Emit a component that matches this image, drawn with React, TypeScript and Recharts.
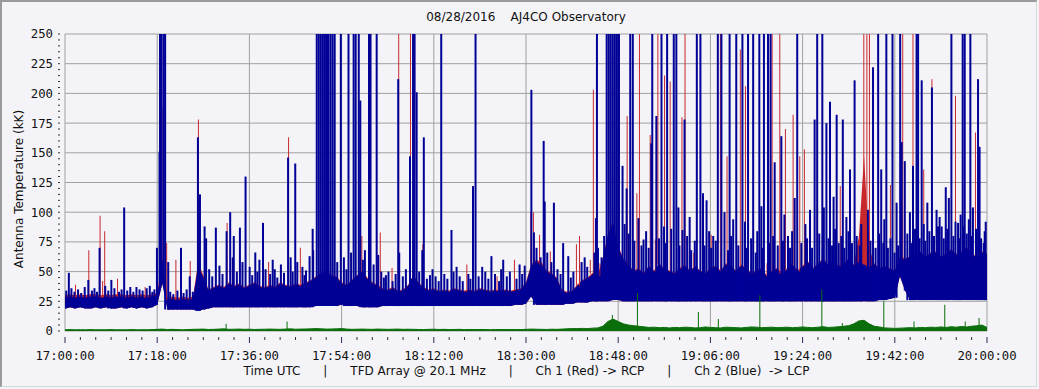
import { ComposedChart, Area, Bar, XAxis, YAxis, CartesianGrid } from 'recharts';

// minutes after 17:00 UTC, one value per minute (0..180)
const blueLow = [
  19, 20, 19, 20, 19, 19, 20, 19, 20, 19,
  19, 20, 19, 20, 19, 20, 19, 20, 22, 40,
  18, 18, 18, 18, 18, 18, 17, 18, 19, 20,
  20, 20, 20, 20, 20, 20, 20, 20, 20, 20,
  20, 20, 20, 20, 20, 20, 20, 20, 20, 21,
  21, 21, 21, 21, 22, 21, 21, 21, 20, 20,
  20, 20, 21, 21, 21, 21, 21, 21, 21, 21,
  21, 21, 21, 21, 21, 21, 21, 21, 21, 21,
  21, 21, 21, 21, 21, 21, 21, 21, 22, 22,
  23, 29, 22, 22, 22, 22, 22, 22, 23, 23,
  24, 24, 24, 25, 25, 25, 25, 26, 26, 25,
  25, 25, 25, 25, 25, 25, 25, 25, 25, 25,
  25, 25, 25, 25, 25, 25, 25, 25, 25, 25,
  25, 25, 25, 25, 25, 25, 25, 25, 25, 25,
  25, 25, 25, 25, 25, 25, 25, 25, 25, 25,
  25, 25, 25, 25, 25, 25, 25, 25, 25, 26,
  26, 27, 28, 46, 34, 26, 26, 26, 26, 26,
  26, 26, 26, 26, 26, 26, 26, 26, 26, 26,
  26,
];

const blueHigh = [
  28, 29, 28, 29, 28, 29, 29, 28, 29, 28,
  29, 29, 28, 29, 28, 29, 28, 29, 30, 60,
  26, 27, 26, 27, 26, 27, 55, 45, 34, 36,
  38, 36, 40, 37, 39, 36, 38, 40, 37, 36,
  38, 36, 40, 38, 37, 39, 38, 40, 42, 45,
  48, 50, 46, 45, 40, 38, 42, 46, 50, 44,
  40, 38, 35, 34, 36, 33, 34, 38, 46, 40,
  36, 34, 35, 33, 34, 33, 35, 34, 33, 34,
  33, 35, 34, 33, 34, 33, 34, 33, 34, 35,
  40, 55, 58, 56, 50, 48, 44, 34, 32, 33,
  38, 42, 44, 48, 46, 60, 80, 90, 70, 60,
  55, 50, 52, 48, 54, 50, 56, 52, 50, 48,
  52, 55, 50, 54, 50, 48, 52, 54, 50, 56,
  54, 50, 55, 52, 48, 50, 52, 46, 50, 52,
  48, 52, 56, 50, 54, 58, 52, 56, 60, 55,
  58, 54, 56, 60, 55, 58, 56, 54, 56, 52,
  54, 52, 50, 62, 60, 62, 64, 66, 62, 65,
  66, 62, 64, 68, 64, 66, 70, 64, 62, 66,
  64,
];

const redHigh = [
  30, 31, 30, 31, 30, 31, 31, 30, 31, 30,
  31, 31, 30, 31, 30, 31, 30, 31, 32, 62,
  28, 29, 28, 29, 28, 29, 58, 47, 35, 37,
  39, 37, 41, 38, 40, 37, 39, 41, 38, 37,
  39, 37, 41, 39, 38, 40, 39, 41, 43, 46,
  49, 51, 47, 46, 41, 39, 43, 47, 51, 45,
  41, 39, 36, 35, 37, 34, 35, 39, 47, 41,
  37, 35, 36, 34, 35, 34, 36, 35, 34, 35,
  34, 36, 35, 34, 35, 34, 35, 34, 35, 36,
  41, 56, 60, 58, 51, 49, 45, 35, 33, 34,
  39, 43, 45, 49, 47, 62, 82, 92, 72, 61,
  56, 51, 53, 49, 55, 51, 57, 53, 51, 49,
  53, 56, 51, 55, 51, 49, 53, 55, 51, 57,
  55, 51, 56, 53, 49, 51, 53, 47, 51, 53,
  49, 53, 57, 51, 55, 59, 53, 57, 61, 56,
  59, 55, 57, 61, 56, 80, 147, 70, 57, 53,
  55, 53, 51, 63, 61, 63, 65, 67, 63, 66,
  67, 63, 65, 69, 65, 67, 71, 65, 63, 67,
  65,
];

const green = [
  1, 1.2, 1, 1.1, 1, 1.2, 1, 1.1, 1, 1.2,
  1, 1.1, 1, 1.2, 1, 1.1, 1, 1.2, 1.4, 1.6,
  1.2, 1.4, 1.2, 1, 1.2, 1.4, 1.5, 1.6, 1.3, 1.4,
  1.6, 1.8, 1.4, 1.5, 1.6, 1.4, 1.5, 1.3, 1.4, 1.5,
  1.6, 1.5, 1.4, 1.6, 1.8, 1.5, 1.6, 1.7, 1.8, 2,
  1.8, 1.6, 1.7, 1.8, 2, 1.6, 1.4, 1.5, 1.6, 1.5,
  1.4, 1.6, 1.5, 1.4, 1.5, 1.6, 1.4, 1.5, 1.4, 1.3,
  1.2, 1.4, 1.5, 1.3, 1.4, 1.2, 1.3, 1.4, 1.2, 1.3,
  1.2, 1.3, 1.2, 1.1, 1.2, 1.3, 1.2, 1.3, 1.2, 1.2,
  1.4, 1.6, 1.5, 1.4, 1.3, 1.5, 1.4, 1.6, 1.8, 2,
  2, 2.2, 2, 2.4, 2.6, 4, 8, 10, 8, 6,
  5, 4.5, 4, 3.5, 3, 3.2, 2.8, 3, 2.6, 3,
  2.8, 3.2, 3, 2.6, 2.8, 3.4, 3, 2.8, 2.6, 3.2,
  3, 2.8, 2.6, 3, 3.4, 3.2, 2.8, 3, 3.2, 2.8,
  3, 3.2, 2.8, 3, 3.4, 3, 2.8, 3.2, 3.6, 3,
  3.2, 3.6, 4, 4.5, 6, 8.5, 9, 6, 4, 3.4,
  2.6, 2.4, 2.2, 2.4, 2.6, 2.8, 2.6, 3, 2.8, 3.2,
  3, 3.4, 3, 3.6, 3.2, 3.8, 3.4, 4, 4.4, 5,
  3,
];

// [minute, peak kK] ; 260 = off the top of the scale
const blueSpikes = [
  [0.8, 49], [4.6, 43], [6.8, 70], [9.1, 43], [11.6, 104], [14, 37], [16.6, 38], [18, 70],
  [18.5, 151], [18.6, 260], [18.9, 260], [19.3, 260], [19.6, 260], [20.2, 58], [22.7, 70], [24.4, 46],
  [26, 163], [26.4, 115], [27.3, 88], [27.6, 78], [29.5, 87], [31.6, 84], [32.3, 100], [33, 80],
  [34.2, 87], [35.3, 130], [38, 60], [38.7, 91], [41, 52], [43.6, 146], [45, 141], [47.1, 51],
  [47.8, 63], [48.4, 86], [48.5, 68],
  [49.2, 260], [49.6, 260], [50, 260], [50.4, 260], [50.8, 260], [51.2, 260], [51.5, 260], [51.9, 260],
  [52.3, 260], [52.7, 260], [53.9, 260], [55.4, 260], [56.4, 260], [56.8, 260], [57.4, 260], [57.7, 194],
  [58.6, 68], [59.4, 260], [59.7, 260], [60.9, 260], [62.7, 47], [65.1, 212], [65.3, 66], [67.4, 147],
  [68, 260], [68.3, 260], [68.7, 201], [69.8, 68], [70.1, 163], [71.3, 47], [73.5, 260], [75.5, 85],
  [76.5, 54], [79.7, 122], [80.2, 260], [81.5, 54], [83.3, 63], [85.6, 60], [88.8, 56],
  [91.1, 203], [91.6, 83], [93.5, 160], [93.7, 109], [95.5, 108], [97.3, 74], [98.3, 63], [103.7, 95],
  [103.9, 260],
  [105.8, 260], [106.2, 260], [106.6, 260], [107, 260], [107.4, 260], [107.8, 260], [108.2, 260], [108.9, 139],
  [109.7, 120], [110.4, 260], [110.9, 260], [112, 95], [113, 77], [114.5, 158], [114.7, 260], [115.5, 181],
  [116.5, 260], [117, 88], [117.6, 260], [118.9, 260], [119.4, 260], [119.8, 104], [120.6, 85], [121, 178],
  [122, 96], [123.4, 260], [124.1, 260], [124.6, 116], [125.3, 110], [126.6, 80], [127.5, 260], [128.2, 260],
  [128.8, 100], [129.8, 260], [130.5, 94], [131.1, 260], [132.3, 260], [132.8, 92], [133.4, 260], [134.4, 260],
  [135.6, 260], [136, 105], [136.5, 260], [137.3, 260], [137.8, 260], [138.6, 142], [139.9, 164], [140.5, 98],
  [141.2, 80], [142.5, 112], [143, 260], [144.6, 90], [145.5, 102], [146.4, 178], [146.9, 260], [147.9, 260],
  [148.2, 104], [148.7, 175], [149.4, 193], [150.1, 113], [150.7, 182], [151.9, 178], [152.6, 96], [153.3, 136],
  [154.2, 211], [155.5, 90], [156.8, 102], [157.8, 222], [158.8, 260], [159.4, 136], [160, 94], [160.4, 260],
  [161.6, 260], [162.4, 108], [163.1, 260], [163.4, 159], [164, 143], [165, 100], [165.6, 139], [166.3, 260],
  [166.6, 260], [167.3, 211], [168.4, 108], [169.3, 205], [170.2, 102], [170.8, 96], [171.2, 88], [172, 121],
  [172.6, 112], [173.1, 260], [174.4, 91], [174.9, 98], [175.3, 260], [175.7, 260], [176.8, 260], [177.3, 104],
  [178.3, 212], [178.6, 155], [179.4, 74], [179.8, 92],
];

// short noise spikes rising just above the blue band
const blueGrass = [
  [0.3, 34], [1.3, 36], [1.9, 33], [2.6, 35], [3.2, 32], [3.9, 37], [5.3, 34], [5.8, 36],
  [6.3, 33], [7.9, 38], [8.5, 34], [9.7, 36], [10.6, 33], [11.1, 35], [12.2, 34], [12.8, 37],
  [13.4, 33], [14.6, 35], [15.2, 34], [16, 36], [17.1, 33], [17.5, 35],
  [20.6, 33], [21.2, 31], [22, 34], [23.2, 32], [23.8, 35], [25, 33], [25.6, 38],
  [28.2, 52], [28.8, 46], [30.2, 55], [30.8, 48], [32.8, 62], [33.6, 50], [34.7, 58], [36.1, 54],
  [36.6, 47], [37.2, 66], [37.6, 50], [39.2, 52], [40.1, 48], [40.6, 60], [41.5, 45], [42.2, 56],
  [42.8, 49], [44.1, 62], [44.5, 50], [45.4, 58], [46.4, 54], [46.8, 47],
  [53.2, 58], [54.5, 62], [55, 52], [55.9, 66], [58.2, 60], [60.3, 56], [61.2, 64], [61.8, 50],
  [62.3, 45], [63.2, 50], [64, 42], [64.6, 48], [66, 46], [66.6, 52], [67.8, 44], [69.2, 50],
  [70.7, 44], [71.8, 52], [72.4, 46], [73, 42], [74.1, 48], [74.7, 44], [75.9, 50], [77.1, 46],
  [77.7, 42], [78.8, 48], [79.2, 44], [80.8, 46], [82.1, 50], [82.7, 44], [84, 48], [84.8, 42],
  [85.2, 52], [86.3, 46], [86.9, 50], [88.2, 44], [89.3, 48], [89.8, 55],
  [92.1, 70], [92.9, 62], [94.2, 66], [95, 58], [96.2, 52], [96.8, 48], [98.8, 45], [99.3, 50],
  [100.9, 58], [101.5, 62], [102, 54], [103.4, 66], [104.1, 70], [104.8, 62],
  [105.3, 80], [109.3, 90], [110.1, 82], [111.2, 76], [112.6, 72], [113.5, 84], [114, 70], [116, 78],
  [117.3, 74], [118.4, 86], [120, 72], [121.5, 80], [122.3, 68], [123, 76], [124.9, 72], [125.8, 84],
  [126.2, 70], [127.1, 76], [129.5, 68], [130.1, 80], [131.5, 72], [133, 70], [134, 78], [134.9, 66],
  [135.2, 84], [136.3, 70], [137.6, 74], [138.3, 80], [139.2, 72], [140.2, 76], [141.6, 70], [142, 84],
  [143.8, 74], [144.9, 78], [145.9, 70], [147.3, 82], [148, 70], [149.1, 78], [149.8, 72], [150.4, 86],
  [151.1, 74], [151.6, 80], [152.2, 70], [153, 84], [153.7, 74], [154.6, 80], [155.2, 72], [157.3, 76],
  [158.3, 70], [159, 82], [159.8, 74], [160.7, 70], [161.2, 78], [162, 66], [162.7, 72], [164.5, 82],
  [165.3, 74], [166, 86], [166.9, 78], [167.7, 90], [168, 76], [168.8, 84], [169.7, 80], [170.5, 88],
  [171.6, 78], [172.3, 86], [173.5, 80], [173.9, 92], [174.7, 78], [175.5, 88], [176.1, 82], [176.5, 94],
  [177, 80], [177.9, 86], [178.9, 78], [179.6, 84],
];

const redSpikes = [
  [2, 39], [4.6, 68], [6.8, 97], [7.3, 42], [7.7, 84], [10.2, 44], [15.6, 37], [18.9, 188],
  [19.8, 74], [21.6, 60], [24.4, 59], [26, 178], [31.6, 91], [35.2, 86], [39.7, 58], [43.6, 163],
  [45.9, 70], [57.9, 80], [61.5, 83], [63.8, 53], [65.1, 260], [67.4, 260], [69.8, 73], [78.4, 56],
  [84.3, 46], [87.7, 60], [90.9, 100], [91.4, 100], [92.6, 81], [94.7, 67], [99.8, 73], [100.4, 80],
  [102.5, 60], [103.1, 203], [104.4, 57], [106.4, 260], [107.6, 260], [109.7, 181], [111.6, 116], [112.1, 260],
  [114.2, 165], [115.2, 77], [115.7, 260], [117, 215], [118.1, 210], [120.4, 180], [121, 260], [122.7, 66],
  [126.1, 81], [127.9, 260], [129.2, 147], [131.8, 237], [132.8, 206], [137, 57], [138, 260], [139.5, 260],
  [140.6, 170], [142.1, 182], [143.4, 147], [144.3, 153], [146.8, 178], [151.3, 122], [155.9, 260], [156.5, 260],
  [157, 260], [161.1, 123], [163.5, 260], [165.5, 260], [167.6, 136], [169.2, 212], [173.8, 198], [177.7, 167],
];

const greenSpikes = [
  [31.6, 6], [43.5, 8], [107, 13.5], [111.9, 32], [123.8, 16], [127.7, 10], [135.8, 30], [147.9, 35],
  [151.9, 6.7], [160, 25], [165.9, 8], [171.9, 22], [175.9, 8], [178.6, 11],
];

const yLabels = [0, 25, 50, 75, 100, 125, 150, 175, 200, 225, 250];
const xLabels = ['17:00:00', '17:18:00', '17:36:00', '17:54:00', '18:12:00', '18:30:00', '18:48:00', '19:06:00', '19:24:00', '19:42:00', '20:00:00'];
const xMajor = xLabels.map((_, i) => i * 18);
const xTicks = Array.from({ length: 61 }, (_, i) => i * 3);
const yTicks = Array.from({ length: 51 }, (_, i) => i * 5);

const BLUE = '#000096';
const RED = '#c8282d';
const GREEN = '#0a6e0a';
const FONT = '"DejaVu Sans", Verdana, sans-serif';
const MONO = '"DejaVu Sans Mono", monospace';

const bandRows = blueLow.map((lo, m) => ({
  t: m,
  blue: [lo, blueHigh[m]],
  red: [lo, redHigh[m]],
  green: green[m],
}));

const spikeRows = [
  ...redSpikes.map(([t, v]) => ({ t, redSpike: [blueHigh[Math.round(t)], v] })),
  ...blueSpikes.map(([t, v]) => ({ t, blueSpike: [blueLow[Math.round(t)], v] })),
  ...blueGrass.map(([t, v]) => ({ t, blueGrass: [blueLow[Math.round(t)], v] })),
  ...greenSpikes.map(([t, v]) => ({ t, greenSpike: v })),
];

const data = [...bandRows, ...spikeRows].sort((a, b) => a.t - b.t);

const XTick = ({ x, y, payload }: any) => {
  const major = payload.value % 18 === 0;
  return (
    <g>
      <line x1={x} x2={x} y1={y + 6} y2={y + (major ? 12 : 9)} stroke={major ? '#2a2a55' : '#333'} />
      {major && (
        <text x={x} y={y + 29} textAnchor="middle" fontFamily={MONO} fontSize={12.3} fill="#111">
          {xLabels[payload.value / 18]}
        </text>
      )}
    </g>
  );
};

const YTick = ({ x, y, payload }: any) => {
  const major = payload.value % 25 === 0;
  return (
    <g>
      <line x1={x - 7} x2={x - 5} y1={y} y2={y} stroke="#333" />
      {major && (
        <text x={x - 12} y={y} dy="0.36em" textAnchor="end" fontFamily={MONO} fontSize={12.3} fill="#111">
          {payload.value}
        </text>
      )}
    </g>
  );
};

export default function App() {
  return (
    <div style={{ position: 'absolute', left: 0, top: 0, width: 1039, height: 389, background: '#f4f4f8', overflow: 'hidden' }}>
      <div style={{ position: 'absolute', left: 0, top: 0, width: 1034, height: 384, borderTop: '2px solid #9a9a9a', borderLeft: '2px solid #9a9a9a', borderRight: '1px solid #d8d8d8', borderBottom: '1px solid #d8d8d8' }} />
      <div style={{ position: 'absolute', left: 0, width: 1052, top: 10, textAlign: 'center', fontFamily: FONT, fontSize: 12, color: '#111', whiteSpace: 'pre' }}>
        {'08/28/2016    AJ4CO Observatory'}
      </div>
      <div style={{ position: 'absolute', left: 19, top: 189, transform: 'translate(-50%, -50%) rotate(-90deg)', fontFamily: FONT, fontSize: 12, color: '#111', whiteSpace: 'nowrap' }}>
        Antenna Temperature (kK)
      </div>
      <div style={{ position: 'absolute', left: 0, width: 1053, top: 364, textAlign: 'center', fontFamily: FONT, fontSize: 12, color: '#111', whiteSpace: 'pre' }}>
        {'Time UTC      |      TFD Array @ 20.1 MHz      |      Ch 1 (Red) -> RCP      |      Ch 2 (Blue)  -> LCP'}
      </div>
      <div style={{ position: 'absolute', left: 0, top: 0 }}>
        <ComposedChart width={1039} height={389} data={data} margin={{ top: 34, right: 52, bottom: 0, left: 0 }} barGap={-2}>
          <CartesianGrid stroke="#a0a0a0" horizontalValues={yLabels} verticalValues={xMajor} fill="none" />
          <XAxis
            dataKey="t"
            type="number"
            domain={[0, 180]}
            ticks={xTicks}
            interval={0}
            height={58}
            tickSize={0}
            tickMargin={0}
            tickLine={false}
            axisLine={false}
            tick={<XTick />}
            allowDataOverflow
          />
          <YAxis
            type="number"
            domain={[0, 250]}
            ticks={yTicks}
            interval={0}
            width={65}
            tickSize={0}
            tickMargin={0}
            tickLine={false}
            axisLine={false}
            tick={<YTick />}
            allowDataOverflow
          />
          <Area dataKey="red" type="linear" fill={RED} fillOpacity={1} stroke="none" connectNulls isAnimationActive={false} dot={false} activeDot={false} />
          <Bar dataKey="redSpike" barSize={1} fill={RED} isAnimationActive={false} />
          <Area dataKey="blue" type="linear" fill={BLUE} fillOpacity={1} stroke="none" connectNulls isAnimationActive={false} dot={false} activeDot={false} />
          <Bar dataKey="blueGrass" barSize={2} fill={BLUE} isAnimationActive={false} />
          <Bar dataKey="blueSpike" barSize={2} fill={BLUE} isAnimationActive={false} />
          <Area dataKey="green" type="linear" fill={GREEN} fillOpacity={1} stroke={GREEN} strokeWidth={1} connectNulls isAnimationActive={false} dot={false} activeDot={false} />
          <Bar dataKey="greenSpike" barSize={1} fill={GREEN} isAnimationActive={false} />
        </ComposedChart>
      </div>
    </div>
  );
}
